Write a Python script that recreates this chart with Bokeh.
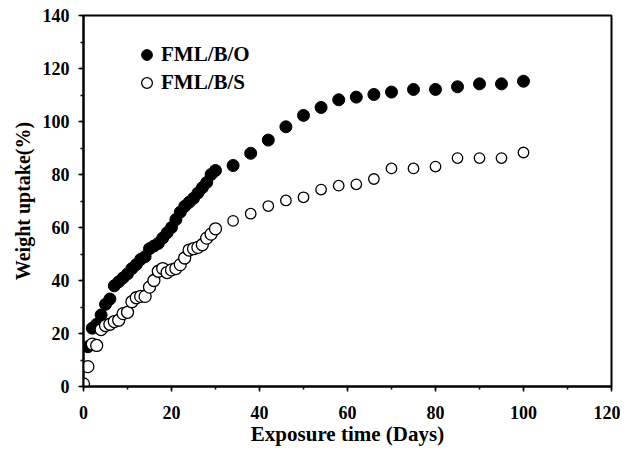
from bokeh.plotting import figure
from bokeh.models import Range1d, SingleIntervalTicker, Legend, LegendItem
from bokeh.embed import file_html
from bokeh.resources import INLINE

# FML/B/O (filled)
days_o = [1, 2, 3, 4, 5, 6, 7, 8, 9, 10, 11, 12, 13, 14, 15, 16, 17, 18, 19, 20,
          21, 22, 23, 24, 25, 26, 27, 28, 29, 30, 34, 38, 42, 46, 50, 54, 58, 62,
          66, 70, 75, 80, 85, 90, 95, 100]
uptake_o = [15, 22, 23.5, 27, 31, 33, 38, 39.5, 41, 42.5, 44.5, 46, 48, 49, 52, 53, 54, 56,
            58, 60, 63, 65.8, 68, 69.5, 71, 73, 75, 77, 80, 81.5, 83.4, 88, 93, 98, 102.3,
            105.3, 108.2, 109.2, 110.2, 111.1, 112.1, 112.1, 113.1, 114.2, 114.2, 115.2]

# FML/B/S (open)
days_s = [0, 1, 2, 3, 4, 5, 6, 7, 8, 9, 10, 11, 12, 13, 14, 15, 16, 17, 18, 19, 20,
          21, 22, 23, 24, 25, 26, 27, 28, 29, 30, 34, 38, 42, 46, 50, 54, 58, 62,
          66, 70, 75, 80, 85, 90, 95, 100]
uptake_s = [1, 7.5, 16, 15.5, 21.5, 23, 23.5, 24.5, 25, 27.5, 28, 32, 33.5, 34, 34, 37.5,
            40, 43.5, 44.5, 43, 44, 44.5, 46, 48.5, 51.5, 52, 52.5, 53.5, 56, 57.5, 59.5,
            62.5, 65.2, 68.1, 70.2, 71.4, 74.3, 75.8, 76.3, 78.3, 82.3, 82.3, 83.0,
            86.2, 86.2, 86.2, 88.3]

x_ticks_interval = 20
y_ticks_interval = 20

FONT = "Liberation Serif"

p = figure(width=620, height=450, output_backend="svg", toolbar_location=None,
           x_range=Range1d(0, 120), y_range=Range1d(0, 140),
           min_border_left=83, min_border_right=9, min_border_top=15,
           min_border_bottom=64)

p.xgrid.visible = False
p.ygrid.visible = False
p.outline_line_color = "black"
p.outline_line_width = 2
p.background_fill_color = "white"
p.border_fill_color = "white"

p.xaxis.ticker = SingleIntervalTicker(interval=x_ticks_interval, num_minor_ticks=2)
p.yaxis.ticker = SingleIntervalTicker(interval=y_ticks_interval, num_minor_ticks=2)

for ax in (p.xaxis[0], p.yaxis[0]):
    ax.axis_line_width = 2
    ax.axis_line_color = "black"
    ax.major_tick_in = 0
    ax.major_tick_out = 5
    ax.minor_tick_in = 0
    ax.minor_tick_out = 3
    ax.major_tick_line_width = 1.5
    ax.minor_tick_line_width = 1.5
    ax.major_label_text_font = FONT
    ax.major_label_text_font_style = "bold"
    ax.major_label_text_color = "black"
    ax.axis_label_text_font = FONT
    ax.axis_label_text_font_style = "bold"
    ax.axis_label_text_color = "black"

p.xaxis.major_label_text_font_size = "18px"
p.yaxis.major_label_text_font_size = "18px"
p.xaxis.axis_label_text_font_size = "21px"
p.yaxis.axis_label_text_font_size = "20px"
p.xaxis.major_label_standoff = 14
p.yaxis.major_label_standoff = 9
p.xaxis.axis_label = "Exposure time (Days)"
p.yaxis.axis_label = "Weight uptake(%)"
p.xaxis.axis_label_standoff = 0
p.yaxis.axis_label_standoff = 6

size_o = [12 for d in days_o]
size_s = [12 if d <= 30 else 10.5 for d in days_s]

r1 = p.scatter(days_o, uptake_o, size=size_o, marker="circle",
               fill_color="black", line_color="black", line_width=1)
r2 = p.scatter(days_s, uptake_s, size=size_s, marker="circle",
               fill_color="white", line_color="black", line_width=1.3)

legend = Legend(items=[LegendItem(label="FML/B/O", renderers=[r1]),
                       LegendItem(label="FML/B/S", renderers=[r2])],
                location=(50, 290), orientation="vertical",
                border_line_color=None, background_fill_alpha=0,
                padding=0, margin=0, spacing=1,
                glyph_width=27, glyph_height=27, label_height=27,
                label_standoff=1,
                label_text_font=FONT, label_text_font_style="bold",
                label_text_font_size="21px", label_text_color="black")
p.add_layout(legend)

open("out.html", "w").write(file_html(p, INLINE))
